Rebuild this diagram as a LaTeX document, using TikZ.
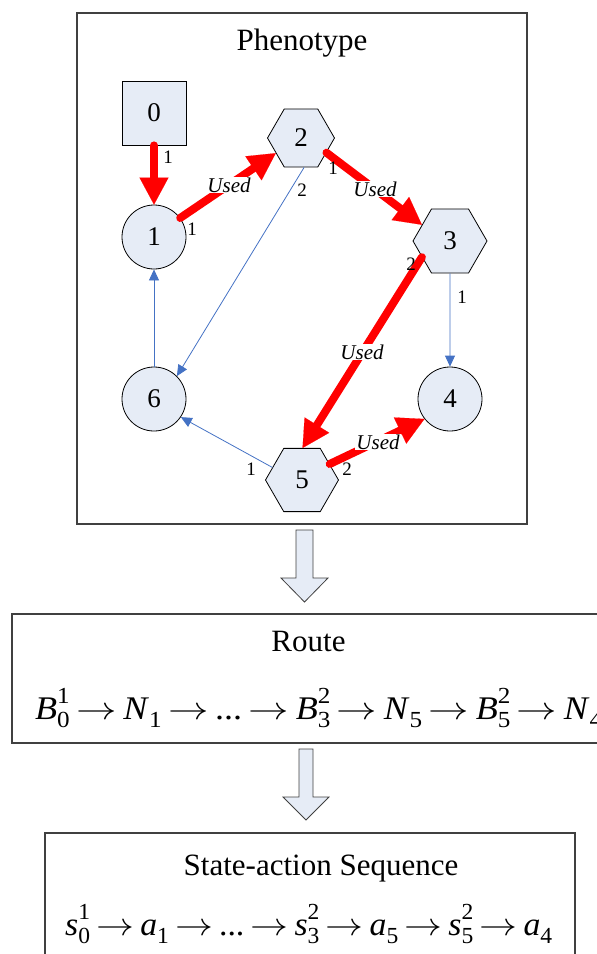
\documentclass[tikz,border=0pt]{standalone}
\usepackage{fontspec}
\setmainfont{Liberation Serif}
\usetikzlibrary{arrows.meta,shapes.geometric}
\definecolor{nodefill}{RGB}{230,236,246}
\definecolor{edgeblue}{RGB}{68,114,196}
\newcommand{\scr}[1]{{\fontsize{23}{23}\selectfont\upshape #1}}
\newcommand{\sbs}[3]{\textit{#1}\rlap{\raisebox{16pt}{\scr{#3}}}\raisebox{-8pt}{\scr{#2}}}
\newcommand{\sbo}[2]{\textit{#1}\raisebox{-8pt}{\scr{#2}}}
\newcommand{\ra}{\hspace{6pt}\raisebox{0pt}{\scalebox{3.7}[3.2]{\fontsize{10}{12}\selectfont$\rightarrow$}}\hspace{6pt}}
\begin{document}
\begin{tikzpicture}[x=1pt,y=-1pt,
  nodebase/.style={draw, fill=nodefill, line width=0.8pt, inner sep=0pt, font=\fontsize{27}{27}\selectfont},
  circ/.style={nodebase, circle, minimum size=64pt},
  sq/.style={nodebase, rectangle, minimum size=64pt},
  hex/.style={nodebase, regular polygon, regular polygon sides=6},
  redarr/.style={draw=red, line width=8pt, line cap=round, -{Triangle[length=27pt,width=29pt,line width=0.1pt]}},
  bluearr/.style={draw=edgeblue, line width=0.8pt, -{Triangle[length=11pt,width=10pt]}},
  port/.style={font=\fontsize{19}{19}\selectfont, inner sep=0pt},
  used/.style={font=\itshape\fontsize{21}{21}\selectfont, fill=white, inner sep=1pt},
  boxst/.style={draw=black!75, line width=1.1pt, inner sep=0pt},
  hollow/.style={fill=nodefill, draw=black!75, line width=0.8pt, line join=miter},
  ttl/.style={font=\fontsize{31}{31}\selectfont, inner sep=0pt},
  formula/.style={font=\fontsize{33}{36}\selectfont, inner sep=0pt, anchor=base west}]
\clip (0,0) rectangle (597,954);
% boxes
\node[boxst, minimum width=608pt, minimum height=129pt] (route) at (316,678.5) {};
\node[boxst, minimum width=530pt, minimum height=160pt] (seq) at (310,913) {};
\node[boxst, minimum width=450pt, minimum height=511pt] (pheno) at (302,268.5) {};
% titles
\node[ttl] (tpheno) at (302,43) {Phenotype};
\node[ttl, anchor=base] (troute) at (308.5,651) {Route};
\node[ttl, anchor=base] (tseq) at (321,875) {State-action Sequence};
% formulas
\node[formula] (froute) at (35,719) {\resizebox{567pt}{\height}{\sbs{B}{0}{1}\ra\sbo{N}{1}\ra...\ra\sbs{B}{3}{2}\ra\sbo{N}{5}\ra\sbs{B}{5}{2}\ra\sbo{N}{4}}};
\node[formula] (fseq) at (65,935) {\resizebox{487pt}{\height}{\sbs{s}{0}{1}\ra\sbo{a}{1}\ra...\ra\sbs{s}{3}{2}\ra\sbo{a}{5}\ra\sbs{s}{5}{2}\ra\sbo{a}{4}}};
% hollow arrows
\draw[hollow] (296,530) -- (313,530) -- (313,578) -- (328,578) -- (304.5,602) -- (281,578) -- (296,578) -- cycle;
\draw[hollow] (299,749) -- (313,749) -- (313,797) -- (329,797) -- (306,820) -- (283,797) -- (299,797) -- cycle;
% graph nodes
\node[sq] (n0) at (154,113) {0};
\node[circ] (n1) at (154,237) {1};
\node[hex, minimum size=67pt] (n2) at (301,138) {2};
\node[hex, minimum size=74pt] (n3) at (450,241) {3};
\node[circ] (n4) at (450,399) {4};
\node[hex, minimum size=73pt] (n5) at (302,480) {5};
\node[circ] (n6) at (154,399) {6};
% blue edges
\draw[bluearr] (n2.-84) -- (n6.45);
\draw[bluearr] (n3.south) -- (n4.north);
\draw[bluearr] (n5.157) -- (n6.-34);
\draw[bluearr] (n6.north) -- (n1.south);
% red edges
\draw[redarr] (n0.south) -- (n1.north);
\draw[redarr] (n1.36) -- (n2.211);
\draw[redarr] (n2.-30) -- (n3.150);
\draw[redarr] (n3.210) -- (n5.89);
\draw[redarr] (n5.30) -- (n4.218);
% used labels
\node[used] (u12) at (229,185) {Used};
\node[used] (u23) at (375,189) {Used};
\node[used] (u35) at (362,352) {Used};
\node[used] (u54) at (378,442) {Used};
% port labels
\node[port] (p0) at (168,157) {1};
\node[port] (p1) at (192,229) {1};
\node[port] (p2a) at (333,168) {1};
\node[port] (p2b) at (302,190) {2};
\node[port] (p3a) at (411,264) {2};
\node[port] (p3b) at (462,297) {1};
\node[port] (p5a) at (251,469) {1};
\node[port] (p5b) at (347,469) {2};
\end{tikzpicture}
\end{document}
